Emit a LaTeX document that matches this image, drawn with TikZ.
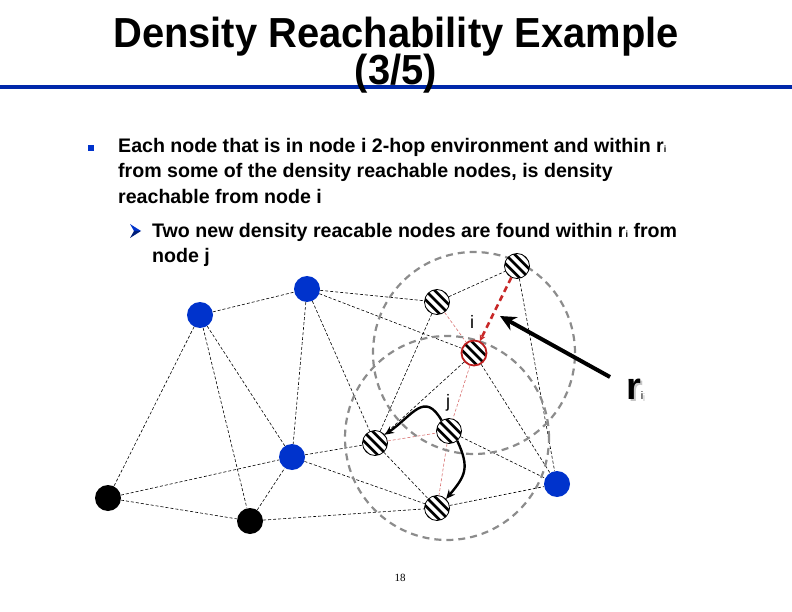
\documentclass[tikz,border=0pt]{standalone}
\usepackage{fontspec}
\setmainfont{Liberation Sans}
\newfontfamily\seriffont{Liberation Serif}
\usetikzlibrary{arrows.meta}
\definecolor{nodeblue}{RGB}{0,51,204}
\definecolor{linecol}{RGB}{0,40,170}
\definecolor{circgray}{RGB}{140,140,140}
\definecolor{redthick}{RGB}{200,40,40}
\definecolor{redthin}{RGB}{215,110,110}
\definecolor{ringred}{RGB}{190,30,30}
\pgfdeclarelayer{bg}
\pgfsetlayers{bg,main}
\begin{document}
\begin{tikzpicture}[x=1pt,y=1pt,
  bluenode/.style={circle,fill=nodeblue,minimum size=26pt,inner sep=0pt},
  blacknode/.style={circle,fill=black,minimum size=26pt,inner sep=0pt},
  hatchnode/.style={circle,draw=black,line width=0.8pt,fill=white,minimum size=25pt,inner sep=0pt,
    path picture={\foreach \k in {-3,...,3}
      \draw[black,line width=2.7pt] ([shift={(\k*4.6pt,\k*4.6pt)}]path picture bounding box.center) ++(-20pt,20pt) -- ++(40pt,-40pt);}},
  edge/.style={black,line width=0.6pt,dash pattern=on 3pt off 2pt},
  rededge/.style={redthin,line width=0.6pt,dash pattern=on 3pt off 2pt},
  ring/.style={circgray,line width=2.2pt,dash pattern=on 7pt off 5pt},
  curvearrow/.style={black,line width=2.4pt,-{Stealth[length=9pt,width=8pt]}},
  lbl/.style={font=\fontsize{18}{18}\selectfont,inner sep=0pt},
  bodytext/.style={font=\fontsize{19.6}{19.6}\selectfont\bfseries,inner sep=0pt,anchor=base west},
  titletext/.style={font=\fontsize{42}{42}\selectfont\bfseries,inner sep=0pt,anchor=base}
]
\useasboundingbox (0,0) rectangle (792,-612);

% title
\fill[linecol] (0,-85) rectangle (792,-89);
\node[titletext] (title1) at (396,-48) {\scalebox{0.95}[1]{Density Reachability Example}};
\node[titletext] (title2) at (396,-85) {\scalebox{0.95}[1]{(3/5)}};

% bullets
\fill[nodeblue] (88,-145) rectangle (94,-151);
\node[bodytext] (t1) at (118,-153) {Each node that is in node i 2-hop environment and within r{\fontsize{9}{9}\selectfont i}};
\node[bodytext] (t2) at (118,-178) {from some of the density reachable nodes, is density};
\node[bodytext] (t3) at (118,-204) {reachable from node i};
\fill[nodeblue] (130,-224) -- (141,-231) -- (134,-231) -- cycle;
\fill[nodeblue!60!black] (130,-238) -- (141,-231) -- (134,-231) -- cycle;
\node[bodytext] (s1) at (152,-238) {Two new density reacable nodes are found within r{\fontsize{9}{9}\selectfont i} from};
\node[bodytext] (s2) at (152,-263) {node j};

% nodes
\node[bluenode] (B1) at (200,-315) {};
\node[bluenode] (B2) at (307,-289) {};
\node[bluenode] (B3) at (292,-457) {};
\node[bluenode] (B4) at (557,-484) {};
\node[blacknode] (K1) at (108,-498) {};
\node[blacknode] (K2) at (250,-521) {};
\node[hatchnode] (H1) at (437,-302) {};
\node[hatchnode] (H2) at (517,-266) {};
\node[hatchnode,draw=ringred,line width=1.8pt] (I) at (474,-353) {};
\node[hatchnode] (J) at (449,-431) {};
\node[hatchnode] (K) at (375,-443) {};
\node[hatchnode] (L) at (437,-508) {};

\begin{pgfonlayer}{bg}
\foreach \a/\b in {B1/B2,B2/H1,B2/I,B2/B3,B2/K,B1/K1,B1/K2,B1/B3,H1/H2,H1/K,H2/B4,I/K,I/B4,K1/B3,K1/K2,K2/B3,K2/L,B3/K,B3/L,K/L,J/B4,L/B4}
  \draw[edge] (\a) -- (\b);
\foreach \a/\b in {H1/I,I/J,K/J,J/L}
  \draw[rededge] (\a) -- (\b);
\draw[ring] (I.center) circle[radius=101];
\coordinate (cj) at (447,-438);
\draw[ring] (cj) circle[radius=102];
\end{pgfonlayer}

\draw[redthick,line width=2.6pt,dash pattern=on 6pt off 4pt,-{Stealth[length=6pt,width=6pt]}] (H2) -- (I);

\node[lbl] (li) at (472,-322) {i};
\node[lbl] (lj) at (448,-403) {j};

\draw[curvearrow] (J.125) to[out=120,in=35,looseness=1.5] (K.40);
\draw[curvearrow] (J.-50) to[out=-65,in=50,looseness=1.3] (L.45);

\coordinate (arrtail) at (610,-377);
\coordinate (arrtip) at (500,-316);
\draw[black,line width=4pt,-{Stealth[length=16pt,width=15pt]}] (arrtail) -- (arrtip);
\node[inner sep=0pt,anchor=base west,text=gray!45] (rshadow) at (628,-401) {\fontsize{38}{38}\selectfont\bfseries r\fontsize{11}{11}\selectfont\mdseries i};
\node[inner sep=0pt,anchor=base west] (rlabel) at (626,-399) {\fontsize{38}{38}\selectfont\bfseries r\fontsize{11}{11}\selectfont\mdseries i};

\node[inner sep=0pt,font=\seriffont\fontsize{11}{11}\selectfont] (pg) at (400,-578) {18};
\end{tikzpicture}
\end{document}
